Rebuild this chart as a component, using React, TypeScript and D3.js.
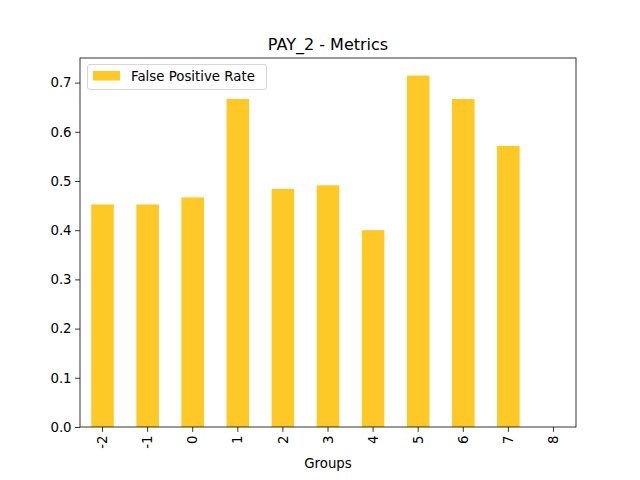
import * as d3 from "d3";
import { useEffect, useRef } from "react";

// groups on the x axis and their false positive rate
const groups = ["-2", "-1", "0", "1", "2", "3", "4", "5", "6", "7", "8"];
const fprValues = [0.4524, 0.4524, 0.4667, 0.6667, 0.4839, 0.4912, 0.4, 0.7143, 0.6667, 0.5714, 0];
const yTicks = [0, 0.1, 0.2, 0.3, 0.4, 0.5, 0.6, 0.7];

export default function App() {
  const ref = useRef<SVGSVGElement | null>(null);

  useEffect(() => {
    document.body.style.margin = "0";
    if (!ref.current) return;
    const svg = d3.select(ref.current);
    svg.selectAll("*").remove();

    const left = 80, right = 576, top = 58, bottom = 427;
    const font = "DejaVu Sans, sans-serif";

    const x = d3.scaleBand().domain(groups).range([left, right]).paddingInner(0.5).paddingOuter(0.25);
    const y = d3.scaleLinear().domain([0, 0.75]).range([bottom, top]);

    svg.append("rect").attr("width", 640).attr("height", 480).attr("fill", "white");

    svg.append("g")
      .selectAll("rect")
      .data(groups)
      .enter()
      .append("rect")
      .attr("x", (d) => x(d)!)
      .attr("width", x.bandwidth())
      .attr("y", (_, i) => y(fprValues[i]))
      .attr("height", (_, i) => bottom - y(fprValues[i]))
      .attr("fill", "#fec826");

    // y axis
    const yAxis = svg.append("g")
      .attr("transform", `translate(${left},0)`)
      .call(d3.axisLeft(y).tickValues(yTicks).tickFormat(d3.format(".1f")).tickSize(4.9).tickPadding(3.5));
    yAxis.select(".domain").remove();
    yAxis.selectAll("text").style("font-family", font).style("font-size", "13.33px").attr("fill", "black");
    yAxis.selectAll("line").attr("stroke", "black").attr("stroke-width", 0.8);

    // x axis
    const xAxis = svg.append("g")
      .attr("transform", `translate(0,${bottom})`)
      .call(d3.axisBottom(x).tickSize(4.9).tickPadding(3.5));
    xAxis.select(".domain").remove();
    xAxis.selectAll("line").attr("stroke", "black").attr("stroke-width", 0.8);
    xAxis.selectAll("text")
      .style("font-family", font)
      .style("font-size", "13.33px")
      .attr("fill", "black")
      .attr("transform", "rotate(-90)")
      .attr("text-anchor", "end")
      .attr("x", -8.5)
      .attr("y", 0)
      .attr("dy", "0.35em");

    // frame
    svg.append("rect")
      .attr("x", left).attr("y", top)
      .attr("width", right - left).attr("height", bottom - top)
      .attr("fill", "none").attr("stroke", "black").attr("stroke-width", 0.8);

    svg.append("text")
      .attr("x", (left + right) / 2).attr("y", 50)
      .attr("text-anchor", "middle")
      .style("font-family", font).style("font-size", "16px")
      .text("PAY_2 - Metrics");

    svg.append("text")
      .attr("x", (left + right) / 2).attr("y", 468)
      .attr("text-anchor", "middle")
      .style("font-family", font).style("font-size", "13.33px")
      .text("Groups");

    // legend
    const lg = svg.append("g");
    lg.append("rect")
      .attr("x", 87.5).attr("y", 64.5).attr("width", 179).attr("height", 25)
      .attr("rx", 2.5).attr("fill", "white").attr("fill-opacity", 0.8)
      .attr("stroke", "#cccccc").attr("stroke-width", 0.8);
    lg.append("rect")
      .attr("x", 93).attr("y", 71).attr("width", 27).attr("height", 9.5)
      .attr("fill", "#fec826");
    lg.append("text")
      .attr("x", 131).attr("y", 81)
      .style("font-family", font).style("font-size", "13.33px")
      .text("False Positive Rate");
  }, []);

  return <svg ref={ref} width={640} height={480} style={{ display: "block" }} />;
}
